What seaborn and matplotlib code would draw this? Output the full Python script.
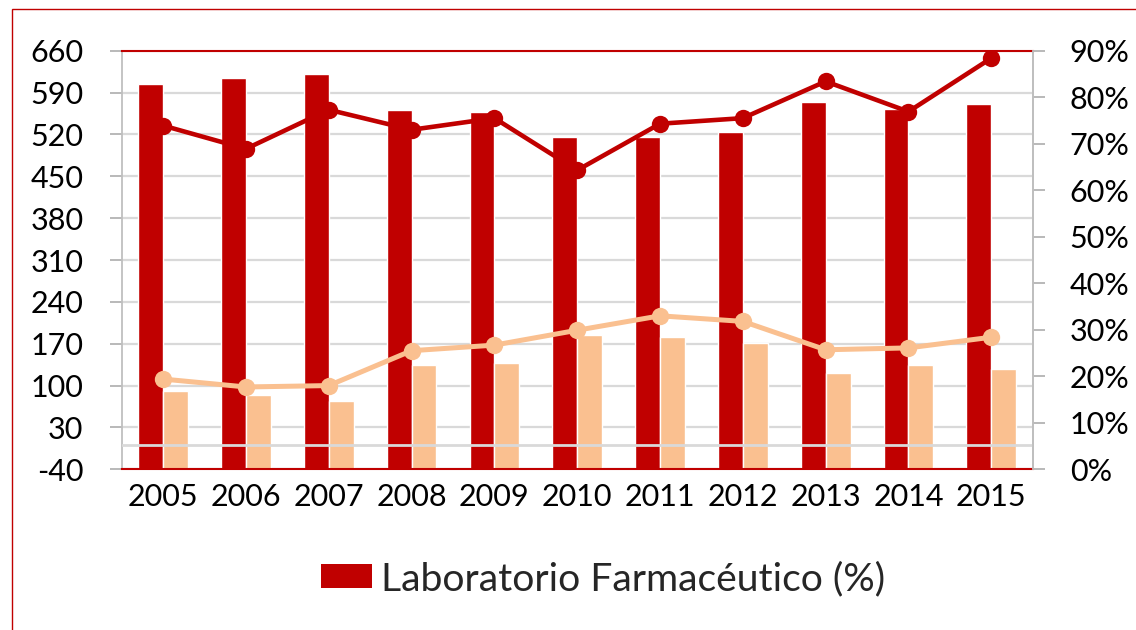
import numpy as np
import pandas as pd
import matplotlib
matplotlib.use("Agg")
import matplotlib.pyplot as plt
from matplotlib.patches import Patch, Rectangle
from matplotlib.ticker import FuncFormatter
import seaborn as sns

# ---- data ----
years = ["2005", "2006", "2007", "2008", "2009", "2010",
         "2011", "2012", "2013", "2014", "2015"]
bars_dark = [605, 615, 621, 561, 558, 515, 515, 524, 575, 563, 571]
bars_light = [91, 84, 74, 134, 138, 184, 181, 171, 121, 134, 128]
line_dark = [0.739, 0.689, 0.773, 0.730, 0.755, 0.643, 0.743, 0.755, 0.834, 0.769, 0.884]
line_light = [0.194, 0.177, 0.180, 0.255, 0.267, 0.299, 0.330, 0.318, 0.257, 0.261, 0.284]
left_ticks = [-40, 30, 100, 170, 240, 310, 380, 450, 520, 590, 660]
right_ticks = [0.0, 0.1, 0.2, 0.3, 0.4, 0.5, 0.6, 0.7, 0.8, 0.9]
series_dark = "Laboratorio Farmacéutico (%)"
series_light = "Otros"

DARK = "#C00000"
LIGHT = "#FAC090"
GRID = "#D9D9D9"
AXGRAY = "#A6A6A6"

sns.set_theme(style="white")
plt.rcParams["font.family"] = ["Lato", "DejaVu Sans"]

df = pd.DataFrame({
    "Año": years * 2,
    "Valor": bars_dark + bars_light,
    "Serie": [series_dark] * len(years) + [series_light] * len(years),
})

W, H = 1136, 630
fig = plt.figure(figsize=(W / 100, H / 100), dpi=100)
ax = fig.add_axes([121.7 / W, 1 - 469.3 / H, (1032.7 - 121.7) / W, (469.3 - 50.7) / H])

sns.barplot(data=df, x="Año", y="Valor", hue="Serie", order=years,
            hue_order=[series_dark, series_light], palette=[DARK, LIGHT],
            saturation=1, width=0.6, edgecolor="white", linewidth=1.0,
            legend=False, ax=ax, zorder=2)

# Bars grow from the axis floor (where the category axis crosses), as in the source chart
floor = left_ticks[0]
for p in ax.patches:
    top = p.get_y() + p.get_height()
    p.set_y(floor)
    p.set_height(top - floor)

ax.set_ylim(left_ticks[0], left_ticks[-1])
ax.set_xlim(-0.5, len(years) - 0.5)
ax.set_yticks(left_ticks)
ax.set_yticklabels([str(t) for t in left_ticks])
ax.set_xlabel("")
ax.set_ylabel("")
ax.yaxis.grid(True, color=GRID, linewidth=1.6, zorder=0)
ax.xaxis.grid(False)
ax.set_axisbelow(True)
ax.axhline(0, color=GRID, linewidth=2.0, zorder=3)

ax.tick_params(axis="y", which="both", left=True, length=8.6, width=1.1,
               color=AXGRAY, pad=19, labelsize=22, labelcolor="black")
ax.tick_params(axis="x", length=0, pad=10, labelsize=22, labelcolor="black")

for side in ["top", "bottom"]:
    ax.spines[side].set_color(DARK)
    ax.spines[side].set_linewidth(1.5)
    ax.spines[side].set_zorder(6)
for side in ["left", "right"]:
    ax.spines[side].set_color("#BFBFBF")
    ax.spines[side].set_linewidth(1.3)

ax2 = ax.twinx()
pos = np.arange(len(years))
sns.lineplot(x=pos, y=line_light, ax=ax2, color=LIGHT, linewidth=3.6,
             marker="o", markersize=12.5, markeredgewidth=0, zorder=4)
sns.lineplot(x=pos, y=line_dark, ax=ax2, color=DARK, linewidth=3.3,
             marker="o", markersize=12.5, markeredgewidth=0, zorder=5)
ax2.set_ylim(right_ticks[0], right_ticks[-1])
ax2.set_yticks(right_ticks)
ax2.yaxis.set_major_formatter(FuncFormatter(lambda v, p: f"{round(v * 100):d}%"))
ax2.tick_params(axis="y", right=True, length=8.6, width=1.1, color=AXGRAY,
                pad=18, labelsize=22, labelcolor="black")
ax2.set_xlim(-0.5, len(years) - 0.5)
ax2.grid(False)
for side in ["top", "bottom", "left"]:
    ax2.spines[side].set_visible(False)
ax2.spines["right"].set_color("#BFBFBF")
ax2.spines["right"].set_linewidth(1.3)

# legend (only the dark series is shown)
handles = [Patch(facecolor=DARK, edgecolor="none", label=series_dark)]
fig.legend(handles=handles, loc="center", bbox_to_anchor=(603.5 / W, 1 - 579 / H),
           frameon=False, fontsize=28.2, handlelength=1.28, handleheight=0.56,
           handletextpad=0.25, borderpad=0, borderaxespad=0)

# outer chart border
fig.add_artist(Rectangle((12.3 / W, -0.05), 1.2, 1 - 9.3 / H + 0.05,
                         transform=fig.transFigure, fill=False,
                         edgecolor=DARK, linewidth=1.0))

fig.savefig("out.png", dpi=100)
